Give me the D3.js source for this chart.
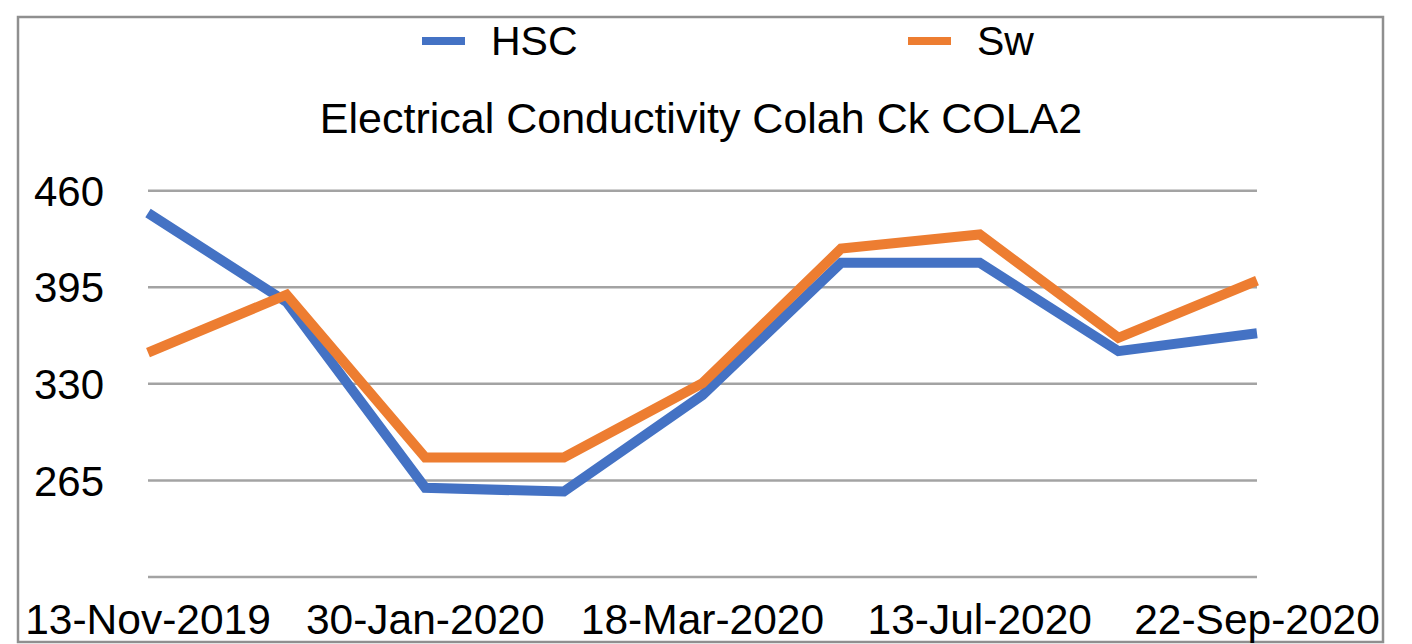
<!DOCTYPE html>
<html>
<head>
<meta charset="utf-8">
<script src="https://cdn.jsdelivr.net/npm/d3@7"></script>
<style>
  body { margin: 0; background: #fff; }
  text { font-family: "Liberation Sans", Arial, Helvetica, sans-serif; fill: #000; }
</style>
</head>
<body>
<svg class="chart"></svg>
<script>
var width = 1412;
var height = 644;

// sample dates (only every second one is labelled on the axis)
var dates = ["13-Nov-2019", "17-Dec-2019", "30-Jan-2020", "26-Feb-2020", "18-Mar-2020",
             "12-May-2020", "13-Jul-2020", "18-Aug-2020", "22-Sep-2020"];
var hsc = [445, 385, 260, 257.5, 322.5, 411.5, 411.5, 352, 364];
var sw  = [351, 390, 280.5, 280.5, 330.5, 421, 430.5, 361, 399.5];
var yTicks = [200, 265, 330, 395, 460];
var yLabels = [265, 330, 395, 460];

var seriesNames = ["HSC", "Sw"];
var colors = ["#4472C4", "#ED7D31"];

var svg = d3.select(".chart")
    .attr("width", width)
    .attr("height", height);

// outer frame
svg.append("rect")
    .attr("x", 18)
    .attr("y", 17)
    .attr("width", 1365)
    .attr("height", 625)
    .style("fill", "none")
    .style("stroke", "#8f8f8f")
    .style("stroke-width", 2.5);

var x = d3.scalePoint()
    .domain(dates)
    .range([148, 1257]);

var y = d3.scaleLinear()
    .domain([200, 460])
    .range([577, 190.7]);

// gridlines
svg.append("g")
  .selectAll("line")
  .data(yTicks)
  .enter().append("line")
    .attr("x1", 148)
    .attr("x2", 1257)
    .attr("y1", function(d) { return y(d); })
    .attr("y2", function(d) { return y(d); })
    .style("stroke", "#a3a3a3")
    .style("stroke-width", 2.5);

// y labels
svg.append("g")
  .selectAll("text")
  .data(yLabels)
  .enter().append("text")
    .attr("x", 104)
    .attr("y", function(d) { return y(d); })
    .attr("dy", "0.36em")
    .style("text-anchor", "end")
    .style("font-size", "42px")
    .text(function(d) { return d; });

// x labels, every second date
svg.append("g")
  .selectAll("text")
  .data(dates.filter(function(d, i) { return i % 2 === 0; }))
  .enter().append("text")
    .attr("x", function(d) { return x(d); })
    .attr("y", 634)
    .style("text-anchor", "middle")
    .style("font-size", "42.5px")
    .text(function(d) { return d; });

// lines
var line = d3.line()
    .x(function(d, i) { return x(dates[i]); })
    .y(function(d) { return y(d); });

[hsc, sw].forEach(function(values, k) {
  svg.append("path")
    .datum(values)
    .attr("d", line)
    .style("fill", "none")
    .style("stroke", colors[k])
    .style("stroke-width", 10)
    .style("stroke-linejoin", "miter");
});

// legend
var legendX = [422, 908];
var legend = svg.append("g")
  .selectAll("g")
  .data(seriesNames)
  .enter().append("g")
    .attr("transform", function(d, i) { return "translate(" + legendX[i] + ",0)"; });

legend.append("line")
    .attr("x1", 0)
    .attr("x2", 43)
    .attr("y1", 41)
    .attr("y2", 41)
    .style("stroke", function(d, i) { return colors[i]; })
    .style("stroke-width", 8);

legend.append("text")
    .attr("x", 69)
    .attr("y", 55)
    .style("font-size", "41px")
    .text(function(d) { return d; });

// title
svg.append("text")
    .attr("x", 701)
    .attr("y", 133)
    .style("text-anchor", "middle")
    .style("font-size", "43px")
    .text("Electrical Conductivity Colah Ck COLA2");
</script>
</body>
</html>
